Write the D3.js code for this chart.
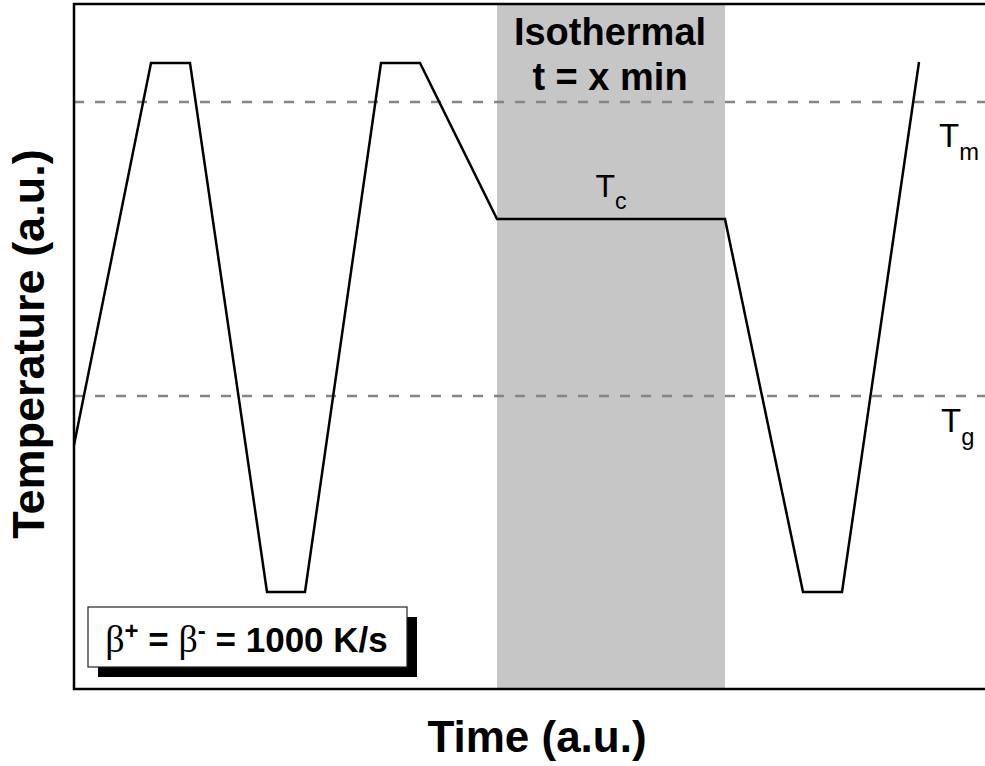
<!DOCTYPE html>
<html>
<head>
<meta charset="utf-8">
<script src="https://cdn.jsdelivr.net/npm/d3@7/dist/d3.min.js"></script>
<style>
  html, body { margin: 0; padding: 0; background: #fff; }
  svg { display: block; font-family: "Liberation Sans", Arial, sans-serif; }
</style>
</head>
<body>
<svg id="chart" width="985" height="766"></svg>
<script>
// Temperature program: time (a.u.) and temperature (a.u.) at each vertex
const programTime = [0, 77, 116, 193, 231, 307, 346, 423, 651, 729, 768, 845];
const programTemp = [244, 626, 626, 97, 97, 626, 626, 470, 470, 97, 97, 627];

// Reference temperatures (dashed lines) and their labels
const refTemps = [587, 293];
const refLabels = [["T", "m"], ["T", "g"]];

// Isothermal hold window
const isoWindow = [423, 651];
const isoTitle = ["Isothermal", "t = x min"];
const isoLabel = ["T", "c"];

const rateText = ["β", "+", " = ", "β", "-", " = 1000 K/s"];

const svg = d3.select("#chart");
const plot = { left: 74, top: 4, right: 989, bottom: 689 };

const x = d3.scaleLinear().domain([0, 915]).range([plot.left, plot.right]);
const y = d3.scaleLinear().domain([0, 685]).range([plot.bottom, plot.top]);

// Isothermal band
svg.append("rect")
  .attr("x", x(isoWindow[0]))
  .attr("y", plot.top)
  .attr("width", x(isoWindow[1]) - x(isoWindow[0]))
  .attr("height", plot.bottom - plot.top)
  .attr("fill", "#c6c6c6");

// Dashed reference lines
svg.selectAll("line.ref").data(refTemps).join("line")
  .attr("class", "ref")
  .attr("x1", plot.left).attr("x2", plot.right)
  .attr("y1", d => y(d)).attr("y2", d => y(d))
  .attr("stroke", "#858585")
  .attr("stroke-width", 2.5)
  .attr("stroke-dasharray", "10,11");

// Temperature program curve
const pts = programTime.map((t, i) => [t, programTemp[i]]);
svg.append("path")
  .datum(pts)
  .attr("d", d3.line().x(d => x(d[0])).y(d => y(d[1])))
  .attr("fill", "none")
  .attr("stroke", "#000")
  .attr("stroke-width", 2.5)
  .attr("stroke-linejoin", "miter");

// Plot frame (right side runs off the canvas)
svg.append("path")
  .attr("d", `M${plot.right + 10},${plot.top}H${plot.left}V${plot.bottom}H${plot.right + 10}`)
  .attr("fill", "none")
  .attr("stroke", "#000")
  .attr("stroke-width", 2.5);

// Isothermal title
const isoCx = (x(isoWindow[0]) + x(isoWindow[1])) / 2;
svg.selectAll("text.iso").data(isoTitle).join("text")
  .attr("class", "iso")
  .attr("x", isoCx - 1)
  .attr("y", (d, i) => 45 + i * 45)
  .attr("text-anchor", "middle")
  .attr("font-weight", "bold")
  .attr("font-size", 38)
  .attr("fill", "#000")
  .text(d => d);

// Subscripted label helper
function subLabel(px, py, parts, size, anchor) {
  const t = svg.append("text")
    .attr("x", px).attr("y", py)
    .attr("font-size", size)
    .attr("text-anchor", anchor || "start")
    .attr("fill", "#000");
  t.append("tspan").text(parts[0]);
  t.append("tspan").attr("dy", size * 0.38).attr("font-size", size * 0.72).text(parts[1]);
  return t;
}

subLabel(isoCx, y(470) - 22, isoLabel, 32, "middle");
subLabel(939, y(refTemps[0]) + 45, refLabels[0], 33);
subLabel(941, y(refTemps[1]) + 36, refLabels[1], 33);

// Heating / cooling rate box with drop shadow
const box = { x: 88, y: 607, w: 319, h: 60, off: 10 };
svg.append("rect")
  .attr("x", box.x + box.off).attr("y", box.y + box.off)
  .attr("width", box.w).attr("height", box.h)
  .attr("fill", "#000");
svg.append("rect")
  .attr("x", box.x).attr("y", box.y)
  .attr("width", box.w).attr("height", box.h)
  .attr("fill", "#fff")
  .attr("stroke", "#222")
  .attr("stroke-width", 1.2);

const rt = svg.append("text")
  .attr("x", box.x + box.w / 2 - 1)
  .attr("y", box.y + 45)
  .attr("text-anchor", "middle")
  .attr("font-size", 35)
  .attr("font-weight", "bold")
  .attr("fill", "#000");
rt.append("tspan").attr("font-family", "Liberation Serif, serif").attr("font-weight", "normal").attr("font-size", 38).text(rateText[0]);
rt.append("tspan").attr("dy", -13).attr("font-size", 24).text(rateText[1]);
rt.append("tspan").attr("dy", 13).text(rateText[2]);
rt.append("tspan").attr("font-family", "Liberation Serif, serif").attr("font-weight", "normal").attr("font-size", 38).text(rateText[3]);
rt.append("tspan").attr("dy", -13).attr("font-size", 24).text(rateText[4]);
rt.append("tspan").attr("dy", 13).text(rateText[5]);

// Axis titles
svg.append("text")
  .attr("x", 537)
  .attr("y", 752)
  .attr("text-anchor", "middle")
  .attr("font-size", 44)
  .attr("font-weight", "bold")
  .text("Time (a.u.)");

svg.append("text")
  .attr("transform", `translate(44, 344) rotate(-90)`)
  .attr("text-anchor", "middle")
  .attr("font-size", 45)
  .attr("font-weight", "bold")
  .text("Temperature (a.u.)");
</script>
</body>
</html>
